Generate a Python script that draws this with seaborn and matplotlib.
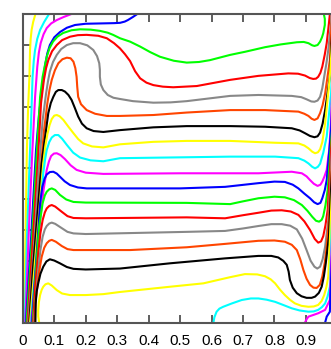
import numpy as np
import pandas as pd
import matplotlib
matplotlib.use("Agg")
import matplotlib.pyplot as plt
import seaborn as sns

# Digitized isolines (x, y), ordered from the hottest (top-left) to the coldest level
iso_01 = [(0.004, 0.0), (0.006, 0.15), (0.009, 0.300), (0.013, 0.560), (0.017, 0.700), (0.021, 0.796),
          (0.023, 0.884), (0.025, 0.920), (0.028, 0.949), (0.033, 0.975), (0.040, 1.0)]
iso_02 = [(0.006, 0.0), (0.013, 0.268), (0.023, 0.559), (0.028, 0.700), (0.031, 0.796), (0.035, 0.850),
          (0.039, 0.884), (0.046, 0.920), (0.055, 0.949), (0.068, 0.975), (0.083, 1.0)]
iso_03 = [(0.008, 0.0), (0.018, 0.268), (0.029, 0.527), (0.035, 0.650), (0.039, 0.731), (0.046, 0.829),
          (0.051, 0.875), (0.057, 0.907), (0.066, 0.935), (0.076, 0.955), (0.090, 0.970), (0.108, 0.981),
          (0.130, 0.991), (0.153, 1.0)]
iso_04 = [(0.010, 0.0), (0.026, 0.268), (0.042, 0.559), (0.052, 0.680), (0.061, 0.754), (0.071, 0.835),
          (0.078, 0.873), (0.086, 0.900), (0.100, 0.925), (0.118, 0.942), (0.140, 0.956), (0.166, 0.965),
          (0.200, 0.969), (0.245, 0.970), (0.290, 0.971), (0.309, 0.972), (0.324, 0.976), (0.334, 0.981),
          (0.350, 0.991), (0.363, 1.0)]
iso_05 = [(0.012, 0.0), (0.029, 0.268), (0.045, 0.559), (0.055, 0.732), (0.063, 0.797), (0.070, 0.833),
          (0.076, 0.862), (0.085, 0.890), (0.096, 0.911), (0.110, 0.927), (0.128, 0.939), (0.155, 0.948),
          (0.182, 0.951), (0.215, 0.950), (0.245, 0.946), (0.270, 0.940), (0.287, 0.933), (0.309, 0.922),
          (0.341, 0.911), (0.373, 0.895), (0.405, 0.877), (0.436, 0.862), (0.480, 0.849), (0.521, 0.843),
          (0.560, 0.845), (0.595, 0.851), (0.659, 0.868), (0.706, 0.878), (0.770, 0.893), (0.820, 0.902),
          (0.871, 0.909), (0.893, 0.910), (0.908, 0.906), (0.920, 0.899), (0.927, 0.897), (0.937, 0.900),
          (0.945, 0.911), (0.951, 0.925), (0.955, 0.938), (0.960, 0.965), (0.960, 0.985), (0.957, 1.0)]
iso_06 = [(0.015, 0.0), (0.032, 0.268), (0.048, 0.527), (0.058, 0.712), (0.067, 0.786), (0.074, 0.825),
          (0.081, 0.851), (0.093, 0.880), (0.108, 0.900), (0.125, 0.916), (0.150, 0.927), (0.175, 0.932),
          (0.203, 0.933), (0.240, 0.930), (0.267, 0.922), (0.290, 0.906), (0.309, 0.889), (0.325, 0.870),
          (0.341, 0.848), (0.357, 0.815), (0.373, 0.792), (0.393, 0.778), (0.415, 0.770), (0.445, 0.765),
          (0.478, 0.763), (0.553, 0.767), (0.659, 0.787), (0.749, 0.800), (0.844, 0.808), (0.875, 0.807),
          (0.897, 0.801), (0.912, 0.793), (0.923, 0.790), (0.932, 0.791), (0.939, 0.797), (0.946, 0.810),
          (0.952, 0.830), (0.960, 0.870), (0.966, 0.906), (0.973, 0.970), (0.976, 1.0)]
iso_07 = [(0.017, 0.0), (0.036, 0.251), (0.051, 0.495), (0.063, 0.656), (0.074, 0.743), (0.080, 0.782),
          (0.086, 0.814), (0.096, 0.845), (0.108, 0.868), (0.122, 0.887), (0.140, 0.900), (0.160, 0.906),
          (0.182, 0.906), (0.205, 0.899), (0.224, 0.884), (0.236, 0.864), (0.243, 0.841), (0.245, 0.820),
          (0.245, 0.797), (0.248, 0.772), (0.256, 0.754), (0.270, 0.738), (0.288, 0.729), (0.309, 0.725),
          (0.350, 0.718), (0.415, 0.713), (0.470, 0.714), (0.521, 0.718), (0.659, 0.735), (0.749, 0.738),
          (0.855, 0.735), (0.885, 0.731), (0.902, 0.724), (0.917, 0.717), (0.927, 0.716), (0.937, 0.720),
          (0.945, 0.732), (0.952, 0.760), (0.958, 0.797), (0.965, 0.840), (0.971, 0.884), (0.980, 0.971),
          (0.981, 1.0)]
iso_08 = [(0.019, 0.0), (0.039, 0.235), (0.055, 0.467), (0.067, 0.619), (0.078, 0.711), (0.085, 0.755),
          (0.092, 0.787), (0.102, 0.818), (0.113, 0.841), (0.126, 0.854), (0.140, 0.859), (0.152, 0.857),
          (0.161, 0.846), (0.167, 0.825), (0.171, 0.797), (0.173, 0.765), (0.176, 0.732), (0.185, 0.708),
          (0.203, 0.689), (0.230, 0.677), (0.267, 0.670), (0.309, 0.670), (0.415, 0.673), (0.521, 0.681),
          (0.659, 0.689), (0.770, 0.689), (0.876, 0.684), (0.895, 0.677), (0.908, 0.670), (0.918, 0.661),
          (0.927, 0.657), (0.937, 0.662), (0.945, 0.679), (0.953, 0.705), (0.961, 0.743), (0.976, 0.851),
          (0.983, 1.0)]
iso_09 = [(0.021, 0.0), (0.032, 0.170), (0.045, 0.332), (0.060, 0.517), (0.071, 0.603), (0.081, 0.679),
          (0.089, 0.712), (0.097, 0.732), (0.105, 0.748), (0.113, 0.754), (0.124, 0.754), (0.134, 0.749),
          (0.145, 0.738), (0.155, 0.722), (0.165, 0.697), (0.176, 0.668), (0.188, 0.645), (0.203, 0.630),
          (0.225, 0.621), (0.256, 0.618), (0.309, 0.624), (0.415, 0.633), (0.521, 0.637), (0.659, 0.637),
          (0.770, 0.635), (0.855, 0.630), (0.880, 0.623), (0.897, 0.614), (0.913, 0.605), (0.927, 0.601),
          (0.937, 0.604), (0.945, 0.616), (0.953, 0.645), (0.961, 0.689), (0.976, 0.797), (0.986, 1.0)]
iso_10 = [(0.023, 0.0), (0.039, 0.203), (0.055, 0.397), (0.065, 0.516), (0.072, 0.575), (0.078, 0.610),
          (0.085, 0.640), (0.092, 0.660), (0.100, 0.671), (0.108, 0.673), (0.117, 0.669), (0.129, 0.657),
          (0.145, 0.635), (0.161, 0.614), (0.176, 0.595), (0.192, 0.581), (0.220, 0.571), (0.256, 0.568),
          (0.309, 0.578), (0.415, 0.586), (0.521, 0.589), (0.659, 0.589), (0.802, 0.583), (0.876, 0.581),
          (0.895, 0.574), (0.908, 0.565), (0.920, 0.554), (0.929, 0.549), (0.938, 0.552), (0.945, 0.562),
          (0.952, 0.585), (0.961, 0.646), (0.976, 0.797), (0.989, 1.0)]
iso_11 = [(0.025, 0.0), (0.042, 0.187), (0.056, 0.365), (0.065, 0.484), (0.071, 0.530), (0.076, 0.559),
          (0.084, 0.585), (0.092, 0.600), (0.102, 0.608), (0.113, 0.608), (0.125, 0.596), (0.140, 0.576),
          (0.160, 0.551), (0.182, 0.535), (0.215, 0.526), (0.256, 0.523), (0.309, 0.533), (0.521, 0.536),
          (0.659, 0.538), (0.802, 0.538), (0.876, 0.533), (0.895, 0.525), (0.908, 0.516), (0.920, 0.505),
          (0.929, 0.500), (0.938, 0.505), (0.945, 0.515), (0.955, 0.550), (0.966, 0.603), (0.980, 0.744),
          (0.991, 1.0)]
iso_12 = [(0.027, 0.0), (0.042, 0.170), (0.055, 0.332), (0.066, 0.430), (0.076, 0.495), (0.083, 0.522),
          (0.090, 0.540), (0.099, 0.548), (0.108, 0.549), (0.120, 0.543), (0.134, 0.530), (0.152, 0.510),
          (0.171, 0.495), (0.200, 0.486), (0.256, 0.482), (0.500, 0.484), (0.749, 0.484), (0.855, 0.489),
          (0.887, 0.484), (0.902, 0.474), (0.913, 0.462), (0.925, 0.450), (0.937, 0.443), (0.946, 0.447),
          (0.952, 0.457), (0.959, 0.474), (0.966, 0.495), (0.974, 0.560), (0.980, 0.657), (0.992, 1.0)]
iso_13 = [(0.029, 0.0), (0.045, 0.235), (0.055, 0.387), (0.062, 0.440), (0.069, 0.466), (0.076, 0.480),
          (0.086, 0.488), (0.097, 0.489), (0.108, 0.483), (0.118, 0.473), (0.133, 0.458), (0.150, 0.446),
          (0.175, 0.438), (0.203, 0.435), (0.500, 0.435), (0.643, 0.440), (0.749, 0.452), (0.800, 0.457),
          (0.833, 0.456), (0.858, 0.447), (0.876, 0.435), (0.895, 0.418), (0.913, 0.403), (0.926, 0.390),
          (0.937, 0.384), (0.946, 0.388), (0.952, 0.403), (0.960, 0.430), (0.966, 0.462), (0.980, 0.624),
          (0.994, 1.0)]
iso_14 = [(0.031, 0.0), (0.042, 0.170), (0.052, 0.311), (0.063, 0.387), (0.070, 0.412), (0.076, 0.424),
          (0.084, 0.432), (0.092, 0.435), (0.103, 0.430), (0.118, 0.414), (0.138, 0.399), (0.161, 0.391),
          (0.200, 0.389), (0.521, 0.388), (0.659, 0.384), (0.700, 0.393), (0.749, 0.403), (0.800, 0.408),
          (0.833, 0.406), (0.862, 0.397), (0.887, 0.381), (0.905, 0.362), (0.920, 0.343), (0.932, 0.330),
          (0.942, 0.327), (0.950, 0.333), (0.955, 0.345), (0.962, 0.380), (0.969, 0.430), (0.983, 0.624),
          (0.996, 1.0)]
iso_15 = [(0.033, 0.0), (0.040, 0.122), (0.049, 0.224), (0.056, 0.290), (0.063, 0.332), (0.070, 0.357),
          (0.076, 0.370), (0.084, 0.378), (0.092, 0.381), (0.103, 0.376), (0.124, 0.359), (0.142, 0.345),
          (0.161, 0.339), (0.200, 0.338), (0.521, 0.341), (0.643, 0.338), (0.700, 0.348), (0.749, 0.356),
          (0.790, 0.363), (0.823, 0.364), (0.852, 0.360), (0.876, 0.349), (0.895, 0.328), (0.913, 0.300),
          (0.928, 0.271), (0.939, 0.259), (0.948, 0.263), (0.955, 0.280), (0.962, 0.315), (0.969, 0.365),
          (0.984, 0.624), (0.997, 1.0)]
iso_16 = [(0.035, 0.0), (0.042, 0.089), (0.049, 0.170), (0.056, 0.235), (0.063, 0.278), (0.070, 0.302),
          (0.076, 0.313), (0.084, 0.321), (0.092, 0.324), (0.103, 0.320), (0.124, 0.306), (0.142, 0.294),
          (0.161, 0.289), (0.200, 0.287), (0.521, 0.294), (0.643, 0.297), (0.700, 0.305), (0.749, 0.313),
          (0.790, 0.319), (0.823, 0.319), (0.850, 0.314), (0.871, 0.302), (0.888, 0.272), (0.902, 0.235),
          (0.915, 0.200), (0.927, 0.181), (0.936, 0.175), (0.945, 0.181), (0.953, 0.205), (0.961, 0.246),
          (0.971, 0.332), (0.986, 0.624), (0.999, 1.0)]
iso_17 = [(0.037, 0.0), (0.040, 0.063), (0.046, 0.116), (0.052, 0.165), (0.060, 0.213), (0.068, 0.242),
          (0.076, 0.257), (0.084, 0.265), (0.092, 0.268), (0.105, 0.262), (0.124, 0.248), (0.142, 0.238),
          (0.161, 0.235), (0.200, 0.235), (0.341, 0.235), (0.521, 0.244), (0.643, 0.255), (0.749, 0.265),
          (0.800, 0.266), (0.833, 0.262), (0.855, 0.252), (0.871, 0.235), (0.882, 0.205), (0.892, 0.170),
          (0.902, 0.142), (0.913, 0.122), (0.924, 0.113), (0.934, 0.112), (0.944, 0.122), (0.952, 0.149),
          (0.960, 0.195), (0.966, 0.246), (0.973, 0.332), (0.988, 0.624), (1.0, 1.0)]
iso_18 = [(0.040, 0.0), (0.041, 0.062), (0.044, 0.100), (0.049, 0.127), (0.056, 0.158), (0.065, 0.181),
          (0.075, 0.198), (0.086, 0.205), (0.100, 0.201), (0.118, 0.192), (0.140, 0.180), (0.161, 0.174),
          (0.200, 0.172), (0.309, 0.175), (0.468, 0.192), (0.643, 0.208), (0.749, 0.216), (0.790, 0.216),
          (0.812, 0.211), (0.828, 0.200), (0.839, 0.187), (0.845, 0.165), (0.849, 0.138), (0.858, 0.113),
          (0.871, 0.095), (0.886, 0.085), (0.902, 0.080), (0.918, 0.080), (0.929, 0.084), (0.941, 0.096),
          (0.950, 0.116), (0.957, 0.150), (0.963, 0.192), (0.973, 0.278), (0.989, 0.624), (1.0, 0.95)]
iso_19 = [(0.052, 0.0), (0.049, 0.020), (0.049, 0.040), (0.051, 0.065), (0.055, 0.089), (0.060, 0.106),
          (0.065, 0.116), (0.072, 0.124), (0.081, 0.127), (0.092, 0.120), (0.108, 0.105), (0.125, 0.094),
          (0.150, 0.089), (0.200, 0.089), (0.256, 0.092), (0.309, 0.099), (0.468, 0.116), (0.574, 0.127),
          (0.659, 0.147), (0.706, 0.157), (0.745, 0.156), (0.770, 0.150), (0.788, 0.140), (0.802, 0.127),
          (0.818, 0.106), (0.833, 0.089), (0.850, 0.073), (0.865, 0.062), (0.886, 0.054), (0.908, 0.051),
          (0.925, 0.052), (0.939, 0.057), (0.950, 0.070), (0.958, 0.089), (0.965, 0.115), (0.971, 0.149),
          (0.991, 0.624), (1.0, 0.9)]
iso_20 = [(0.606, 0.0), (0.609, 0.017), (0.616, 0.035), (0.625, 0.045), (0.637, 0.051), (0.665, 0.062),
          (0.696, 0.073), (0.725, 0.078), (0.749, 0.078), (0.775, 0.074), (0.802, 0.067), (0.830, 0.056),
          (0.855, 0.046), (0.880, 0.039), (0.908, 0.035), (0.925, 0.036), (0.939, 0.041), (0.951, 0.050),
          (0.961, 0.062), (0.969, 0.085), (0.976, 0.116), (0.992, 0.624), (1.0, 0.85)]
iso_21 = [(0.897, 0.0), (0.903, 0.012), (0.908, 0.019), (0.925, 0.025), (0.939, 0.030), (0.961, 0.041),
          (0.976, 0.073), (0.995, 0.624), (1.0, 0.8)]
iso_22 = [(0.961, 0.0), (0.966, 0.019), (0.976, 0.035), (0.998, 0.624), (1.0, 0.75)]

isolines = [iso_01, iso_02, iso_03, iso_04, iso_05, iso_06, iso_07, iso_08, iso_09, iso_10, iso_11,
            iso_12, iso_13, iso_14, iso_15, iso_16, iso_17, iso_18, iso_19, iso_20, iso_21, iso_22]
color_cycle = ["#ffff00", "#00ffff", "#ff00ff", "#0000ff", "#00ff00", "#ff0000",
               "#888888", "#ff4500", "#000000"]
x_ticks = [0, 0.1, 0.2, 0.3, 0.4, 0.5, 0.6, 0.7, 0.8, 0.9]
x_tick_labels = ["0", "0.1", "0.2", "0.3", "0.4", "0.5", "0.6", "0.7", "0.8", "0.9"]
y_ticks = [0.1, 0.2, 0.3, 0.4, 0.5, 0.6, 0.7, 0.8, 0.9]

rows = []
for i, line in enumerate(isolines):
    for order, (x, y) in enumerate(line):
        rows.append({"curve": f"c{i:02d}", "x": x, "y": y, "order": order})
df = pd.DataFrame(rows)
palette = {f"c{i:02d}": color_cycle[i % len(color_cycle)] for i in range(len(isolines))}

sns.set_theme(style="white")
plt.rcParams["font.family"] = ["Liberation Sans", "DejaVu Sans"]

fig = plt.figure(figsize=(3.31, 3.49), dpi=100)
ax = fig.add_axes([22.8 / 331, (349 - 322.5) / 349, 314.6 / 331, 308.3 / 349])

sns.lineplot(data=df, x="x", y="y", hue="curve", palette=palette, sort=False,
             estimator=None, legend=False, linewidth=1.5, ax=ax)
for ln in ax.lines:
    ln.set_solid_joinstyle("round")

ax.set_xlim(0, 1)
ax.set_ylim(0, 1)
ax.set_xlabel("")
ax.set_ylabel("")
ax.set_xticks(x_ticks)
ax.set_xticklabels(x_tick_labels)
ax.set_yticks(y_ticks)
ax.set_yticklabels([])
ax.tick_params(axis="both", direction="in", length=5.5, width=1.1, color="#333333",
               top=True, bottom=True, left=True, right=False, labelsize=11, pad=8,
               labelcolor="#000000")
for side in ["left", "top", "bottom"]:
    ax.spines[side].set_visible(True)
    ax.spines[side].set_color("#555555")
    ax.spines[side].set_linewidth(1.5)
ax.spines["right"].set_visible(False)

fig.savefig("out.png", dpi=100)
